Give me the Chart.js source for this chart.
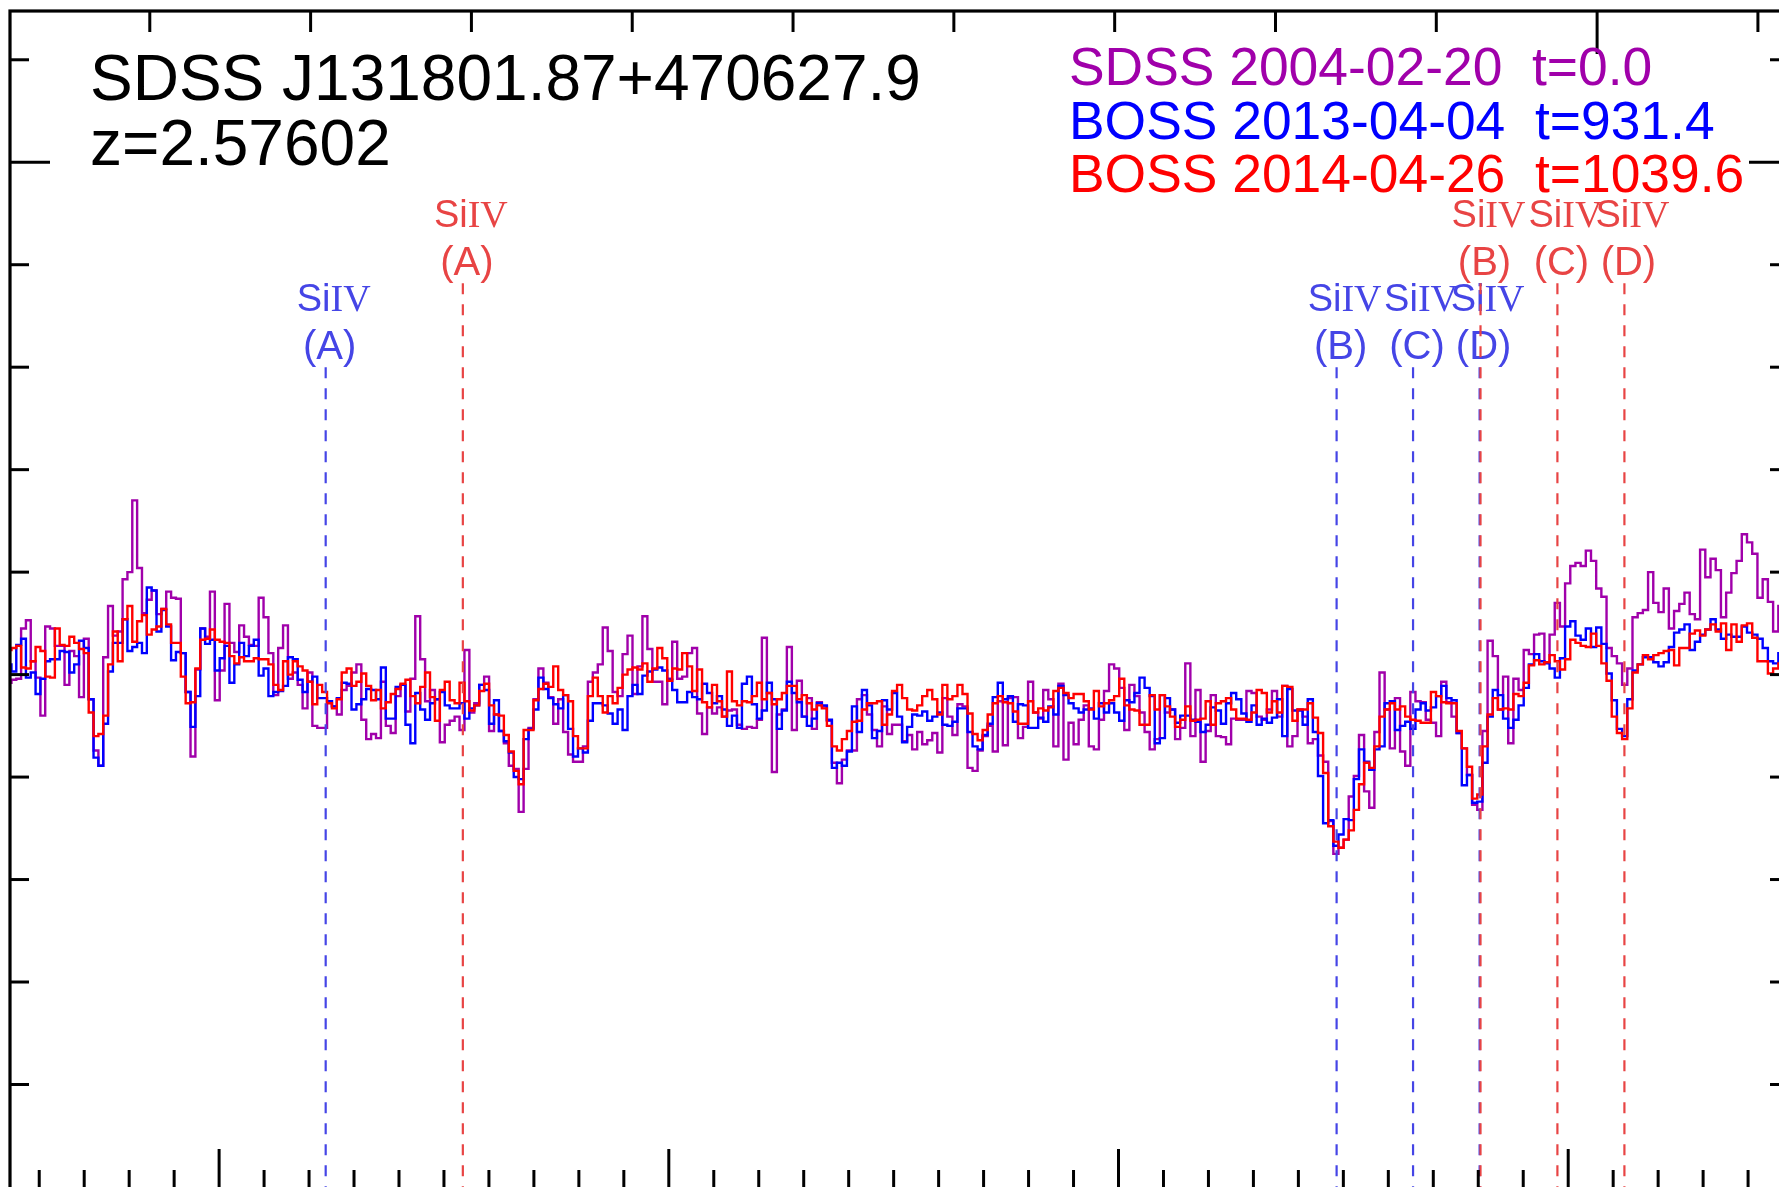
<!DOCTYPE html>
<html>
<head>
<meta charset="utf-8">
<script src="https://cdn.jsdelivr.net/npm/chart.js@4.4.1/dist/chart.umd.min.js"></script>
<style>
  html, body { margin: 0; padding: 0; background: #fff; }
  #wrap { position: relative; width: 1779px; height: 1187px; overflow: hidden; background: #fff; }
  #spec { position: absolute; left: 0; top: 0; }
</style>
</head>
<body>
<div id="wrap"><canvas id="spec" width="1800" height="1200"></canvas></div>
<script>
// quasar + spectral grid (SDSS/BOSS log-lambda pixels)
const QSO_NAME = "SDSS J131801.87+470627.9";
const Z_QSO = 2.57602;
const LOGLAM0 = 3.66776;
const DLOGLAM = 1e-4;

// observed-frame window (Angstrom) and flux window
const WAVE_MIN = 4653.5;
const WAVE_MAX = 5049.1;
const FLUX_MIN = -0.02;
const FLUX_MAX = 11.476;

// epochs: survey, MJD date, rest-frame days since first epoch
const surveys = ["SDSS", "BOSS", "BOSS"];
const dates = ["2004-02-20", "2013-04-04", "2014-04-26"];
const tRest = ["0.0", "931.4", "1039.6"];
const colors = ["#a000aa", "#0000ff", "#ff0000"];

// flux per pixel
const fluxSDSS2004 = [
  4.92, 4.95, 4.96, 5.45, 5.53, 5.13, 4.97, 4.60, 5.47, 5.45, 5.28, 5.28, 4.90, 5.23, 5.18, 4.78, 5.35, 4.76, 4.26, 4.11,
  5.17, 5.67, 5.38, 5.42, 5.93, 6.00, 6.70, 6.04, 5.60, 5.73, 5.82, 5.59, 5.64, 5.81, 5.75, 5.74, 5.21, 4.83, 4.20, 5.05,
  5.45, 5.37, 5.81, 4.75, 5.04, 5.69, 5.31, 5.22, 5.48, 5.37, 5.29, 5.28, 5.75, 5.56, 5.21, 4.80, 5.26, 5.48, 4.96, 5.02,
  4.90, 4.67, 5.02, 4.50, 4.48, 4.48, 4.74, 4.69, 4.61, 4.85, 4.89, 5.02, 5.10, 4.56, 4.37, 4.42, 4.38, 4.93, 4.50, 4.43,
  4.79, 4.90, 4.64, 4.96, 5.57, 5.15, 4.74, 4.85, 4.76, 4.34, 4.51, 4.55, 4.59, 4.46, 5.24, 4.63, 4.72, 4.90, 4.98, 4.45,
  4.61, 4.45, 4.33, 4.11, 4.08, 3.66, 4.08, 4.48, 4.76, 5.06, 4.92, 4.78, 4.52, 4.76, 4.44, 4.22, 4.15, 4.15, 4.30, 4.93,
  5.02, 5.10, 5.46, 5.23, 4.83, 4.79, 5.20, 5.38, 4.81, 5.08, 5.57, 5.25, 4.93, 4.93, 4.71, 4.96, 5.32, 4.96, 4.98, 5.21,
  5.26, 4.62, 4.42, 4.68, 4.62, 4.68, 4.59, 4.65, 4.66, 4.51, 4.47, 4.49, 4.48, 4.56, 5.36, 4.82, 4.05, 4.61, 4.66, 5.27,
  4.46, 4.94, 4.59, 4.77, 4.47, 4.73, 4.69, 4.55, 4.14, 3.94, 4.17, 4.26, 4.26, 4.76, 4.80, 4.61, 4.46, 4.30, 4.69, 4.42,
  4.51, 4.51, 4.35, 4.41, 4.27, 4.44, 4.32, 4.36, 4.43, 4.24, 4.77, 4.59, 4.41, 4.71, 4.69, 4.09, 4.06, 4.26, 4.40, 4.50,
  4.25, 4.74, 4.31, 4.77, 4.78, 4.38, 4.49, 4.93, 4.63, 4.57, 4.85, 4.76, 4.30, 4.91, 4.17, 4.53, 4.32, 4.56, 4.70, 4.30,
  4.27, 4.56, 4.84, 5.10, 5.06, 4.87, 4.46, 4.90, 4.79, 4.63, 4.44, 4.27, 4.37, 4.80, 4.63, 4.66, 4.37, 4.48, 5.11, 4.40,
  4.85, 4.15, 4.45, 4.80, 4.40, 4.39, 4.32, 4.57, 4.56, 4.56, 4.84, 4.82, 4.59, 4.56, 4.66, 4.84, 4.59, 4.89, 4.30, 4.40,
  4.66, 4.59, 4.33, 4.37, 4.21, 4.15, 3.57, 3.25, 3.31, 3.39, 3.81, 4.01, 4.41, 3.86, 3.70, 4.44, 5.02, 4.66, 4.28, 4.77,
  4.25, 4.11, 4.83, 4.74, 4.73, 4.56, 4.53, 4.40, 4.93, 4.73, 4.59, 4.43, 4.28, 4.02, 3.73, 3.68, 4.45, 5.33, 5.18, 4.66,
  4.98, 4.33, 4.96, 4.85, 5.24, 5.20, 5.39, 5.40, 5.12, 5.39, 5.70, 5.47, 5.89, 6.06, 6.09, 6.06, 6.21, 6.11, 5.84, 5.76,
  5.26, 5.18, 5.11, 4.90, 5.06, 5.56, 5.60, 5.63, 6.00, 5.70, 5.61, 5.84, 5.45, 5.62, 5.69, 5.80, 5.59, 5.54, 6.22, 5.95,
  6.13, 6.02, 5.56, 5.80, 5.99, 6.11, 6.37, 6.29, 6.18, 5.75, 5.93, 5.71, 5.42, 5.67
];

const fluxBOSS2013 = [
  5.10, 5.03, 5.29, 5.35, 4.97, 5.02, 4.81, 4.96, 5.13, 5.15, 5.15, 5.23, 5.22, 5.02, 5.10, 5.33, 5.26, 4.76, 4.19, 4.11,
  4.52, 5.03, 5.31, 5.31, 5.54, 5.23, 5.27, 5.31, 5.21, 5.85, 5.82, 5.42, 5.63, 5.47, 5.14, 5.22, 5.21, 4.83, 4.49, 4.79,
  5.45, 5.30, 5.34, 5.04, 5.16, 5.28, 4.92, 5.10, 5.31, 5.18, 5.28, 5.34, 4.99, 5.06, 4.79, 4.83, 4.84, 4.89, 5.17, 5.15,
  4.95, 4.83, 4.93, 4.98, 4.77, 4.77, 4.74, 4.69, 4.77, 4.92, 4.91, 4.66, 4.71, 4.76, 4.86, 4.85, 4.76, 5.07, 4.57, 4.57,
  4.88, 4.90, 4.51, 4.33, 4.82, 4.66, 4.56, 4.72, 4.76, 4.83, 4.70, 4.67, 4.67, 4.72, 4.57, 4.67, 4.70, 4.90, 4.85, 4.52,
  4.75, 4.45, 4.35, 4.24, 4.00, 3.98, 4.37, 4.47, 4.66, 4.97, 4.86, 4.77, 4.71, 4.67, 4.80, 4.47, 4.20, 4.28, 4.24, 4.55,
  4.72, 4.72, 4.70, 4.62, 4.52, 4.66, 4.46, 4.79, 4.90, 4.81, 4.99, 5.03, 5.05, 5.07, 5.04, 4.95, 4.85, 4.73, 4.73, 4.83,
  4.78, 4.76, 4.91, 4.82, 4.72, 4.79, 4.66, 4.50, 4.60, 4.48, 4.91, 4.98, 4.71, 4.57, 4.65, 4.92, 4.76, 4.47, 4.65, 4.93,
  4.82, 4.73, 4.59, 4.50, 4.57, 4.72, 4.70, 4.56, 4.09, 4.14, 4.11, 4.25, 4.69, 4.44, 4.85, 4.70, 4.38, 4.45, 4.75, 4.66,
  4.82, 4.59, 4.34, 4.49, 4.61, 4.60, 4.64, 4.55, 4.59, 4.63, 4.51, 4.50, 4.54, 4.67, 4.67, 4.44, 4.30, 4.27, 4.41, 4.52,
  4.78, 4.92, 4.76, 4.79, 4.54, 4.71, 4.70, 4.48, 4.48, 4.58, 4.54, 4.69, 4.61, 4.89, 4.80, 4.72, 4.67, 4.63, 4.66, 4.67,
  4.57, 4.72, 4.63, 4.72, 4.63, 4.55, 4.75, 4.73, 4.82, 4.97, 4.87, 4.79, 4.33, 4.38, 4.77, 4.66, 4.53, 4.60, 4.60, 4.56,
  4.54, 4.44, 4.51, 4.68, 4.65, 4.52, 4.72, 4.82, 4.76, 4.62, 4.54, 4.70, 4.51, 4.57, 4.53, 4.58, 4.76, 4.40, 4.86, 4.65,
  4.65, 4.51, 4.76, 4.44, 4.01, 3.55, 3.58, 3.33, 3.44, 3.59, 3.58, 3.98, 4.27, 4.15, 4.07, 4.27, 4.30, 4.72, 4.74, 4.46,
  4.50, 4.54, 4.47, 4.66, 4.72, 4.65, 4.68, 4.79, 4.89, 4.77, 4.75, 4.43, 3.92, 4.02, 3.75, 3.76, 4.14, 4.59, 4.85, 4.80,
  4.57, 4.48, 4.56, 4.70, 4.87, 5.10, 5.20, 5.13, 5.11, 5.06, 4.97, 5.16, 5.47, 5.52, 5.38, 5.34, 5.45, 5.27, 5.46, 5.30,
  5.01, 4.75, 4.47, 4.40, 4.76, 5.04, 5.10, 5.17, 5.17, 5.12, 5.08, 5.12, 5.27, 5.41, 5.44, 5.49, 5.24, 5.32, 5.39, 5.44,
  5.54, 5.44, 5.35, 5.39, 5.37, 5.37, 5.47, 5.41, 5.39, 5.35, 5.26, 5.13, 5.11, 5.21
];

const fluxBOSS2014 = [
  5.24, 5.26, 5.28, 5.07, 5.06, 5.13, 5.27, 5.23, 4.98, 4.97, 5.45, 5.29, 5.28, 5.37, 5.31, 5.25, 5.21, 4.63, 4.40, 4.42,
  4.60, 5.10, 5.42, 5.13, 5.54, 5.67, 5.32, 5.52, 5.58, 5.39, 5.44, 5.47, 5.64, 5.49, 5.31, 5.31, 4.98, 4.72, 4.73, 5.06,
  5.34, 5.35, 5.44, 5.34, 5.32, 5.31, 5.18, 5.11, 5.17, 5.13, 5.13, 5.16, 5.15, 5.15, 5.10, 4.90, 4.85, 5.13, 5.00, 5.13,
  5.08, 5.04, 4.93, 4.71, 4.90, 4.83, 4.72, 4.67, 4.76, 5.02, 5.06, 4.89, 4.93, 5.01, 4.89, 4.75, 4.85, 4.67, 4.73, 4.81,
  4.86, 4.91, 4.95, 4.79, 4.72, 4.88, 5.02, 4.78, 4.55, 4.85, 4.93, 4.75, 4.72, 4.92, 4.74, 4.65, 4.70, 4.84, 4.91, 4.70,
  4.61, 4.60, 4.41, 4.25, 4.06, 3.93, 4.46, 4.46, 4.75, 4.86, 4.91, 4.88, 5.08, 4.85, 4.80, 4.74, 4.40, 4.28, 4.28, 4.79,
  4.97, 4.79, 4.63, 4.79, 4.72, 4.87, 5.00, 5.05, 5.07, 5.05, 5.11, 4.93, 5.06, 5.26, 5.16, 4.94, 5.06, 5.05, 5.21, 5.08,
  4.84, 5.05, 4.73, 4.68, 4.90, 4.74, 4.59, 5.03, 4.74, 4.70, 4.74, 4.73, 4.79, 4.92, 4.76, 4.82, 4.71, 4.76, 4.82, 4.89,
  4.89, 4.76, 4.80, 4.72, 4.66, 4.70, 4.67, 4.50, 4.30, 4.26, 4.37, 4.45, 4.54, 4.55, 4.66, 4.72, 4.72, 4.74, 4.51, 4.61,
  4.84, 4.90, 4.77, 4.66, 4.65, 4.70, 4.79, 4.85, 4.76, 4.61, 4.90, 4.76, 4.79, 4.90, 4.81, 4.62, 4.42, 4.36, 4.46, 4.61,
  4.72, 4.79, 4.73, 4.72, 4.64, 4.52, 4.52, 4.74, 4.63, 4.67, 4.65, 4.68, 4.84, 4.87, 4.82, 4.77, 4.81, 4.81, 4.74, 4.66,
  4.84, 4.69, 4.72, 4.75, 4.79, 4.96, 4.70, 4.66, 4.65, 4.51, 4.51, 4.80, 4.66, 4.80, 4.69, 4.59, 4.49, 4.56, 4.69, 4.55,
  4.56, 4.57, 4.74, 4.51, 4.72, 4.74, 4.77, 4.66, 4.57, 4.57, 4.56, 4.63, 4.85, 4.82, 4.63, 4.74, 4.63, 4.89, 4.88, 4.55,
  4.66, 4.66, 4.72, 4.58, 4.43, 4.04, 3.52, 3.37, 3.31, 3.39, 3.48, 3.68, 3.93, 4.14, 4.09, 4.30, 4.59, 4.66, 4.72, 4.66,
  4.69, 4.59, 4.56, 4.55, 4.53, 4.53, 4.83, 4.79, 4.73, 4.72, 4.72, 4.45, 4.28, 4.10, 3.79, 3.83, 4.30, 4.61, 4.77, 4.66,
  4.67, 4.66, 4.81, 4.79, 4.92, 5.09, 5.14, 5.10, 5.12, 5.19, 5.13, 5.05, 5.15, 5.34, 5.31, 5.28, 5.27, 5.40, 5.28, 5.11,
  4.94, 4.59, 4.43, 4.37, 4.67, 5.02, 5.10, 5.19, 5.15, 5.19, 5.21, 5.23, 5.24, 5.09, 5.26, 5.26, 5.40, 5.43, 5.38, 5.44,
  5.49, 5.42, 5.50, 5.24, 5.49, 5.32, 5.48, 5.50, 5.36, 5.13, 5.13, 5.01, 5.06, 5.11
];

// Si IV 1393.76 / 1402.77 absorber positions (observed Angstrom)
const siivTags = ["A", "B", "C", "D"];
const siivBlue = [4723.7, 4948.5, 4965.5, 4980.3];
const siivRed = [4754.2, 4980.5, 4997.6, 5012.5];
const siivBlueTop = 8.0;
const siivRedTop = 8.82;

const BLUE_MARK = "#4545e6";
const RED_MARK = "#e84444";
const SANS = '"Liberation Sans", Arial, Helvetica, sans-serif';
const SERIF = '"Liberation Serif", "Times New Roman", serif';

function toPoints(flux) {
  return flux.map((f, i) => ({ x: Math.pow(10, LOGLAM0 + i * DLOGLAM), y: f }));
}

function line(ctx, x1, y1, x2, y2) {
  ctx.beginPath();
  ctx.moveTo(x1, y1);
  ctx.lineTo(x2, y2);
  ctx.stroke();
}

function drawSiIV(ctx, cx, baseY) {
  ctx.font = `38px ${SANS}`;
  const wSi = ctx.measureText("Si").width;
  ctx.font = `38px ${SERIF}`;
  const wIV = ctx.measureText("IV").width;
  const x0 = cx - (wSi + wIV) / 2;
  ctx.textAlign = "left";
  ctx.font = `38px ${SANS}`;
  ctx.fillText("Si", x0, baseY);
  ctx.font = `38px ${SERIF}`;
  ctx.fillText("IV", x0 + wSi, baseY);
}

const markers = {
  id: "markers",
  afterDatasetsDraw(chart) {
    const { ctx, chartArea: a, scales: { x, y } } = chart;
    ctx.save();
    ctx.lineWidth = 2.2;
    ctx.setLineDash([11, 10]);
    const sets = [
      [siivBlue, BLUE_MARK, siivBlueTop],
      [siivRed, RED_MARK, siivRedTop],
    ];
    sets.forEach(([waves, color, top]) => {
      const py = y.getPixelForValue(top);
      ctx.strokeStyle = color;
      ctx.fillStyle = color;
      waves.forEach((w, i) => {
        const px = x.getPixelForValue(w);
        line(ctx, px, py, px, a.bottom);
        drawSiIV(ctx, px + 8, py - 56);
        ctx.font = `40px ${SANS}`;
        ctx.textAlign = "center";
        ctx.fillText(`(${siivTags[i]})`, px + 4, py - 8);
      });
    });
    ctx.restore();
  },
};

const frame = {
  id: "frame",
  afterDraw(chart) {
    const { ctx, chartArea: a, scales: { x, y } } = chart;
    ctx.save();
    ctx.setLineDash([]);
    ctx.strokeStyle = "#000";
    ctx.lineWidth = 3.2;
    ctx.strokeRect(a.left, a.top, a.right - a.left, a.bottom - a.top);
    ctx.lineWidth = 3;

    // observed wavelength ticks (bottom)
    for (let w = Math.ceil(x.min / 10) * 10; w <= x.max; w += 10) {
      const px = x.getPixelForValue(w);
      line(ctx, px, a.bottom, px, a.bottom - (w % 100 === 0 ? 40 : 19));
    }
    // rest wavelength ticks (top)
    const zf = 1 + Z_QSO;
    for (let r = Math.ceil(x.min / zf / 10) * 10; r * zf <= x.max; r += 10) {
      const px = x.getPixelForValue(r * zf);
      line(ctx, px, a.top, px, a.top + (r % 100 === 0 ? 43 : 21));
    }
    // flux ticks (left, right)
    for (let v = 1; v <= y.max; v++) {
      const py = y.getPixelForValue(v);
      const len = v % 10 === 0 ? 40 : 19;
      line(ctx, a.left, py, a.left + len, py);
      line(ctx, a.right, py, a.right - len, py);
    }

    ctx.textAlign = "left";
    ctx.fillStyle = "#000";
    ctx.font = `64px ${SANS}`;
    ctx.fillText(QSO_NAME, 90, 100);
    ctx.fillText(`z=${Z_QSO.toFixed(5)}`, 90, 165);

    ctx.font = `53.4px ${SANS}`;
    surveys.forEach((s, i) => {
      ctx.fillStyle = colors[i];
      ctx.fillText(`${s} ${dates[i]}  t=${tRest[i]}`, 1069, 85 + i * 53.5);
    });
    ctx.restore();
  },
};

const spectra = [fluxSDSS2004, fluxBOSS2013, fluxBOSS2014];

new Chart(document.getElementById("spec"), {
  type: "line",
  data: {
    datasets: spectra.map((flux, i) => ({
      label: `${surveys[i]} ${dates[i]}`,
      data: toPoints(flux),
      borderColor: colors[i],
      borderWidth: 2.4,
      stepped: "middle",
      pointRadius: 0,
      fill: false,
      order: 3 - i,
    })),
  },
  options: {
    responsive: false,
    devicePixelRatio: 1,
    animation: false,
    layout: { padding: { left: 10, top: 11, right: 11, bottom: 11 } },
    plugins: { legend: { display: false }, tooltip: { enabled: false } },
    scales: {
      x: { type: "linear", min: WAVE_MIN, max: WAVE_MAX, display: false },
      y: { type: "linear", min: FLUX_MIN, max: FLUX_MAX, display: false },
    },
  },
  plugins: [markers, frame],
});
</script>
</body>
</html>
